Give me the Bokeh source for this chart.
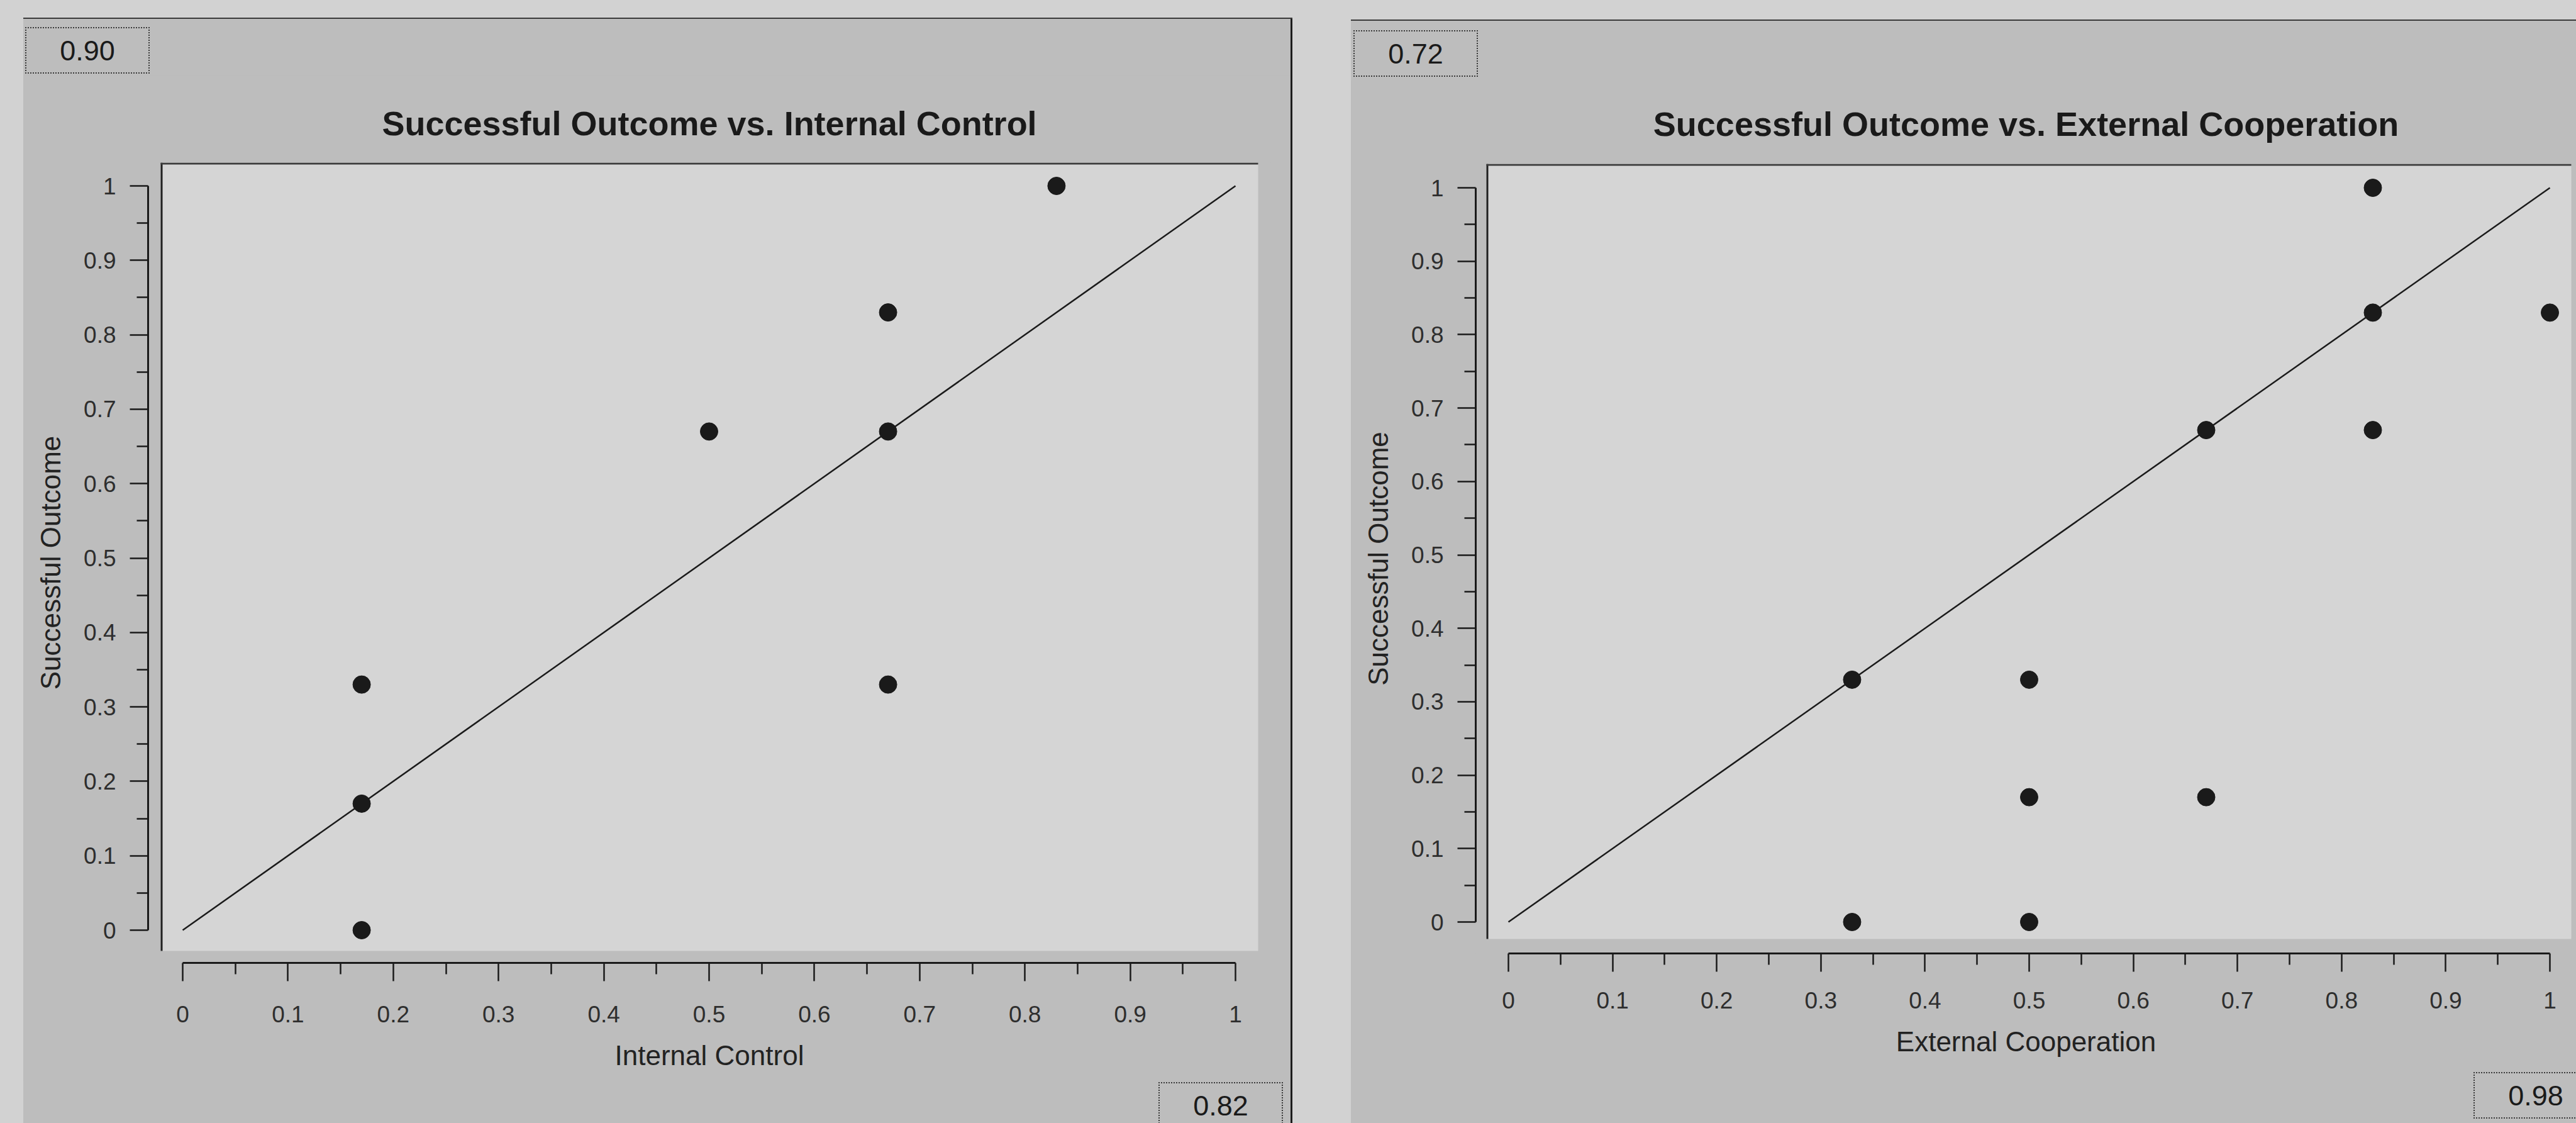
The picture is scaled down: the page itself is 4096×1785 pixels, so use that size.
from bokeh.plotting import figure
from bokeh.models import Range1d, FixedTicker, Spacer, Div
from bokeh.layouts import row, column
from bokeh.embed import file_html
from bokeh.resources import INLINE

# ---------------- data ----------------
TICKS = [0, 0.1, 0.2, 0.3, 0.4, 0.5, 0.6, 0.7, 0.8, 0.9, 1]
TICK_LABELS = ["0", "0.1", "0.2", "0.3", "0.4", "0.5", "0.6", "0.7", "0.8", "0.9", "1"]
MINOR_TICKS = [0.05, 0.15, 0.25, 0.35, 0.45, 0.55, 0.65, 0.75, 0.85, 0.95]

internal_control = [0.17, 0.17, 0.17, 0.50, 0.67, 0.67, 0.67, 0.83]
outcome_ic = [0.33, 0.17, 0.00, 0.67, 0.83, 0.67, 0.33, 1.00]

external_coop = [0.33, 0.33, 0.50, 0.50, 0.50, 0.67, 0.67, 0.83, 0.83, 0.83, 1.00]
outcome_ec = [0.33, 0.00, 0.33, 0.17, 0.00, 0.67, 0.17, 1.00, 0.83, 0.67, 0.83]

diag_x = [0, 1]
diag_y = [0, 1]

left_scores = ["0.90", "0.82"]
right_scores = ["0.72", "0.98"]

titles = ["Successful Outcome vs. Internal Control",
          "Successful Outcome vs. External Cooperation"]
x_labels = ["Internal Control", "External Cooperation"]
y_label = "Successful Outcome"

# ---------------- style ----------------
PAGE = "#d2d2d2"
PANEL = "#bdbdbd"
PLOT_BG = "#d5d5d5"
INK = "#1a1a1a"
FONT = "Liberation Sans"

# geometry of the chart figures (canvas pixels)
G1 = dict(W=2015, H=1598, L=198, R=1983, T=138, B=1410, x0=253, x1=1927,
          y0=1358, y1=175, rect_l=218, rect_r=1963, rect_b=1391,
          tstand=66, xstand=39)
G2 = dict(W=1948, H=1570, L=198, R=1948, T=132, B=1387, x0=250, x1=1906,
          y0=1337, y1=170, rect_l=215, rect_r=1940, rect_b=1364,
          tstand=68, xstand=32)

BOX_W, BOX_H = 198, 74


def make_panel(g, title, xlabel, xs, ys):
    def xd(px):
        return (px - g["x0"]) / (g["x1"] - g["x0"])

    def yd(py):
        return (g["y0"] - py) / (g["y0"] - g["y1"])

    p = figure(width=g["W"], height=g["H"],
               x_range=Range1d(xd(g["L"]), xd(g["R"])),
               y_range=Range1d(yd(g["B"]), yd(g["T"])),
               output_backend="svg", toolbar_location=None,
               min_border_left=g["L"], min_border_right=g["W"] - g["R"],
               min_border_top=g["T"], min_border_bottom=g["H"] - g["B"],
               styles={"background-color": PANEL})
    p.background_fill_color = PANEL
    p.border_fill_color = PANEL
    p.outline_line_color = None
    p.xgrid.visible = False
    p.ygrid.visible = False

    # lighter plotting area with a sunken edge
    p.quad(left=[xd(g["rect_l"])], right=[xd(g["rect_r"])],
           top=[yd(g["T"])], bottom=[yd(g["rect_b"])],
           fill_color=PLOT_BG, line_color=None)
    p.segment(x0=[xd(g["rect_l"] + 1.5)], x1=[xd(g["rect_l"] + 1.5)],
              y0=[yd(g["rect_b"])], y1=[yd(g["T"])],
              line_color="#202020", line_width=3)
    p.segment(x0=[xd(g["rect_l"])], x1=[xd(g["rect_r"])],
              y0=[yd(g["T"] + 1.5)], y1=[yd(g["T"] + 1.5)],
              line_color="#3c3c3c", line_width=3)

    p.line(diag_x, diag_y, line_color=INK, line_width=2.5)
    p.scatter(xs, ys, size=28, fill_color=INK, line_color=INK)

    overrides = {t: l for t, l in zip(TICKS, TICK_LABELS)}
    for ax, lab in ((p.xaxis, xlabel), (p.yaxis, y_label)):
        ax.bounds = (0, 1)
        ax.ticker = FixedTicker(ticks=TICKS, minor_ticks=MINOR_TICKS)
        ax.major_label_overrides = overrides
        ax.axis_line_color = INK
        ax.axis_line_width = 3
        ax.major_tick_line_color = INK
        ax.minor_tick_line_color = INK
        ax.major_tick_line_width = 2.5
        ax.minor_tick_line_width = 2.5
        ax.major_tick_in = 0
        ax.minor_tick_in = 0
        ax.major_tick_out = 29
        ax.minor_tick_out = 18
        ax.major_label_text_font = FONT
        ax.major_label_text_font_size = "37px"
        ax.major_label_text_color = "#2e2e2e"
        ax.major_label_standoff = 22
        ax.axis_label = lab
        ax.axis_label_text_font = FONT
        ax.axis_label_text_font_size = "44px"
        ax.axis_label_text_font_style = "normal"
        ax.axis_label_text_color = "#222222"
        ax.axis_label_standoff = 25
    p.xaxis.major_label_standoff = g["xstand"]

    p.title.text = title
    p.title.align = "center"
    p.title.text_font = FONT
    p.title.text_font_size = "54px"
    p.title.text_font_style = "bold"
    p.title.text_color = INK
    p.title.standoff = g["tstand"]
    return p


def score_strip(width, height, left, top, text):
    """A strip of the panel holding one dotted score box."""
    html = (
        f'<div style="position:absolute;left:{left}px;top:{top}px;'
        f'width:{BOX_W}px;height:{BOX_H}px;box-sizing:border-box;'
        f'border:2px dotted #3a3a3a;display:flex;align-items:center;'
        f'justify-content:center;font-family:\'{FONT}\',sans-serif;'
        f'font-size:45px;line-height:1;color:{INK};">{text}</div>'
    )
    return Div(text=html, width=width, height=height, margin=0,
               styles={"background-color": PANEL, "position": "relative",
                       "overflow": "hidden"})


p1 = make_panel(G1, titles[0], x_labels[0], internal_control, outcome_ic)
p2 = make_panel(G2, titles[1], x_labels[1], external_coop, outcome_ec)

top1 = score_strip(2015, 90, 3, 13, left_scores[0])
bot1 = score_strip(2015, 67, 1805, 2, left_scores[1])
top2 = score_strip(1948, 95, 4, 15, right_scores[0])
bot2 = score_strip(1948, 87, 1785, 6, right_scores[1])


def sp(w, h, color):
    return Spacer(width=w, height=h, margin=0, styles={"background-color": color})


left_block = column(sp(2018, 28, PAGE), sp(2018, 2, "#3a3a3a"),
                    row(column(top1, p1, bot1, styles={"background-color": PANEL}),
                        sp(3, 1755, "#1c1c1c")))
right_block = column(sp(1948, 31, PAGE), sp(1948, 2, "#3a3a3a"),
                     column(top2, p2, bot2, styles={"background-color": PANEL}))
layout = row(sp(37, 1785, PAGE), left_block, sp(93, 1785, PAGE), right_block,
             styles={"background-color": PAGE})

open("out.html", "w").write(file_html(layout, INLINE))
